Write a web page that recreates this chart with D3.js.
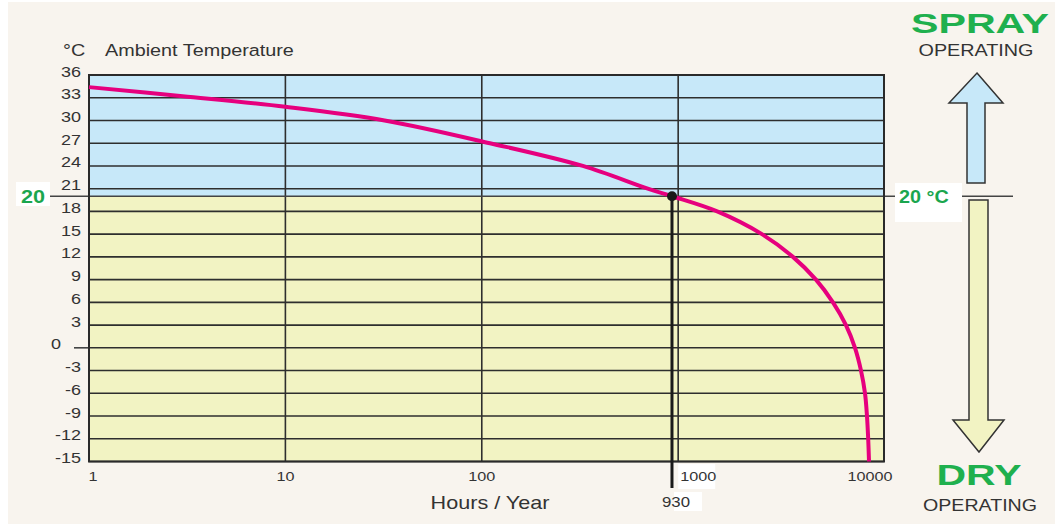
<!DOCTYPE html>
<html>
<head>
<meta charset="utf-8">
<script src="https://cdn.jsdelivr.net/npm/d3@7"></script>
<style>
  body { margin: 0; background: #fff; }
  text { font-family: "Liberation Sans", Arial, Helvetica, sans-serif; }
</style>
</head>
<body>
<div id="chart"></div>
<script>
// curve: hours per year above a given ambient temperature
var hours = [1, 3, 10, 32, 110, 327, 700, 930, 1580, 2670, 3840, 5030, 6140, 7150, 7950, 8530, 8940, 9150, 9280, 9370];
var temps = [34.4, 33.2, 31.8, 30, 27, 24, 21, 20, 18, 15, 12, 9, 6, 3, 0, -3, -6, -9, -12, -15];

var yTicks = [36, 33, 30, 27, 24, 21, 18, 15, 12, 9, 6, 3, 0, -3, -6, -9, -12, -15];
var xTicks = [1, 10, 100, 1000, 10000];
var xGrid = [10, 100, 1000];
var switchTemp = 20, switchHours = 930;

var W = 1055, H = 525;
var green = "#1aa64e", ink = "#333";

var svg = d3.select("#chart").append("svg")
  .attr("width", W).attr("height", H);

// warm backdrop
svg.append("rect").attr("x", 8).attr("y", 2).attr("width", W - 8).attr("height", H - 3)
  .style("fill", "#f8f4ee");

var x = d3.scaleLog().domain([1, 11170]).range([89, 884]);
var y = d3.scaleLinear().domain([-15, 36]).range([461.5, 75]);

// text is a bit wide in the original, so stretch it horizontally
function label(px, py, s, o) {
  o = o || {};
  var t = svg.append("text")
    .attr("transform", "translate(" + px + "," + py + ") scale(" + (o.sx || 1.2) + ",1)")
    .attr("text-anchor", o.anchor || "start")
    .style("font-size", (o.size || 14) + "px")
    .style("font-weight", o.bold ? "bold" : "normal")
    .style("fill", o.color || ink)
    .text(s);
  if (o.len) t.attr("textLength", o.len).attr("lengthAdjust", "spacingAndGlyphs");
  return t;
}

// spray zone (above 20) and dry zone (below)
svg.append("rect")
  .attr("x", x(1)).attr("y", y(36))
  .attr("width", x.range()[1] - x(1)).attr("height", y(switchTemp) - y(36))
  .style("fill", "#c7e8f9");
svg.append("rect")
  .attr("x", x(1)).attr("y", y(switchTemp))
  .attr("width", x.range()[1] - x(1)).attr("height", y(-15) - y(switchTemp))
  .style("fill", "#f2f3c3");

// horizontal grid
svg.selectAll(".hgrid").data(yTicks).enter().append("line")
  .attr("x1", x(1)).attr("x2", x.range()[1])
  .attr("y1", function (d) { return y(d); }).attr("y2", function (d) { return y(d); })
  .style("stroke", "#2e2e2e").style("stroke-width", 1.6);

// vertical grid
svg.selectAll(".vgrid").data(xGrid).enter().append("line")
  .attr("x1", function (d) { return x(d); }).attr("x2", function (d) { return x(d); })
  .attr("y1", y(36)).attr("y2", y(-15))
  .style("stroke", "#2e2e2e").style("stroke-width", 1.6);

// 20 degree switch line, runs outside the plot on both sides
svg.append("line").attr("x1", 50).attr("x2", 1013)
  .attr("y1", y(switchTemp)).attr("y2", y(switchTemp))
  .style("stroke", "#444").style("stroke-width", 1.6);

// little outer tick for 0
svg.append("line").attr("x1", 74).attr("x2", x(1))
  .attr("y1", y(0)).attr("y2", y(0))
  .style("stroke", "#444").style("stroke-width", 1.6);

// frame
svg.append("rect")
  .attr("x", x(1)).attr("y", y(36))
  .attr("width", x.range()[1] - x(1)).attr("height", y(-15) - y(36))
  .style("fill", "none").style("stroke", "#2a2a2a").style("stroke-width", 2);

// the curve
var pts = hours.map(function (h, i) { return [h, temps[i]]; });
var line = d3.line()
  .x(function (d) { return x(d[0]); })
  .y(function (d) { return y(d[1]); })
  .curve(d3.curveCatmullRom.alpha(0.5));
svg.append("path").datum(pts)
  .attr("d", line)
  .style("fill", "none").style("stroke", "#e6007e").style("stroke-width", 4);

// 930 h marker
svg.append("line")
  .attr("x1", x(switchHours)).attr("x2", x(switchHours))
  .attr("y1", y(switchTemp)).attr("y2", 488)
  .style("stroke", "#1a1a1a").style("stroke-width", 3);
svg.append("circle")
  .attr("cx", x(switchHours)).attr("cy", y(switchTemp)).attr("r", 5)
  .style("fill", "#1a1a1a");

// y tick labels
yTicks.forEach(function (d) {
  if (d === 0) label(61, y(d) + 1.5, "0", { anchor: "end", size: 15 });
  else label(81, y(d) + 1.5, String(d), { anchor: "end", size: 15 });
});

// x tick labels
xTicks.forEach(function (d) {
  if (d === 1000) {
    svg.append("rect").attr("x", x(d)).attr("y", 464).attr("width", 37).attr("height", 25).style("fill", "#fff");
    label(x(d) + 2, 481, "1000", { size: 13.5 });
  } else if (d === 1) {
    label(x(d) + 4, 481, "1", { anchor: "middle", size: 13.5 });
  } else if (d === 10000) {
    label(870, 481, "10000", { anchor: "middle", size: 13.5 });
  } else {
    label(x(d), 481, String(d), { anchor: "middle", size: 13.5 });
  }
});

svg.append("rect").attr("x", x(switchHours) + 2).attr("y", 492).attr("width", 28).attr("height", 19).style("fill", "#fff");
label(x(switchHours) + 4, 507, String(switchHours), { anchor: "middle", size: 14 });

// axis titles
label(490, 509, "Hours / Year", { anchor: "middle", size: 18 });
label(63, 56, "°C", { size: 16.5 });
label(105, 56, "Ambient Temperature", { size: 16.5 });

// 20 markers on both sides
svg.append("rect").attr("x", 16).attr("y", 182).attr("width", 34).attr("height", 24).style("fill", "#fff");
label(33, y(switchTemp) + 6.5, "20", { anchor: "middle", size: 18, bold: true, color: green });
svg.append("rect").attr("x", 895).attr("y", 183).attr("width", 67).attr("height", 39).style("fill", "#fff");
label(899, y(switchTemp) + 6.5, "20 °C", { size: 18, bold: true, color: green, sx: 1.1 });

// arrows
var up = [[977, 73], [1003, 103], [985, 103], [985, 183], [967, 183], [967, 103], [949, 103]];
var down = [[969, 200], [988, 200], [988, 420], [1004, 420], [979, 452], [953, 420], [969, 420]];
svg.append("path").attr("d", d3.line()(up) + "Z")
  .style("fill", "#c7e8f9").style("stroke", ink).style("stroke-width", 1.5);
svg.append("path").attr("d", d3.line()(down) + "Z")
  .style("fill", "#f2f3c3").style("stroke", ink).style("stroke-width", 1.5);

label(980, 33, "SPRAY", { anchor: "middle", size: 28, bold: true, color: "#1fb04e", sx: 1, len: 138 });
label(976, 56, "OPERATING", { anchor: "middle", size: 16, sx: 1, len: 115 });
label(979, 485, "DRY", { anchor: "middle", size: 29, bold: true, color: "#1fb04e", sx: 1, len: 85 });
label(980, 511, "OPERATING", { anchor: "middle", size: 16, sx: 1, len: 114 });
</script>
</body>
</html>
